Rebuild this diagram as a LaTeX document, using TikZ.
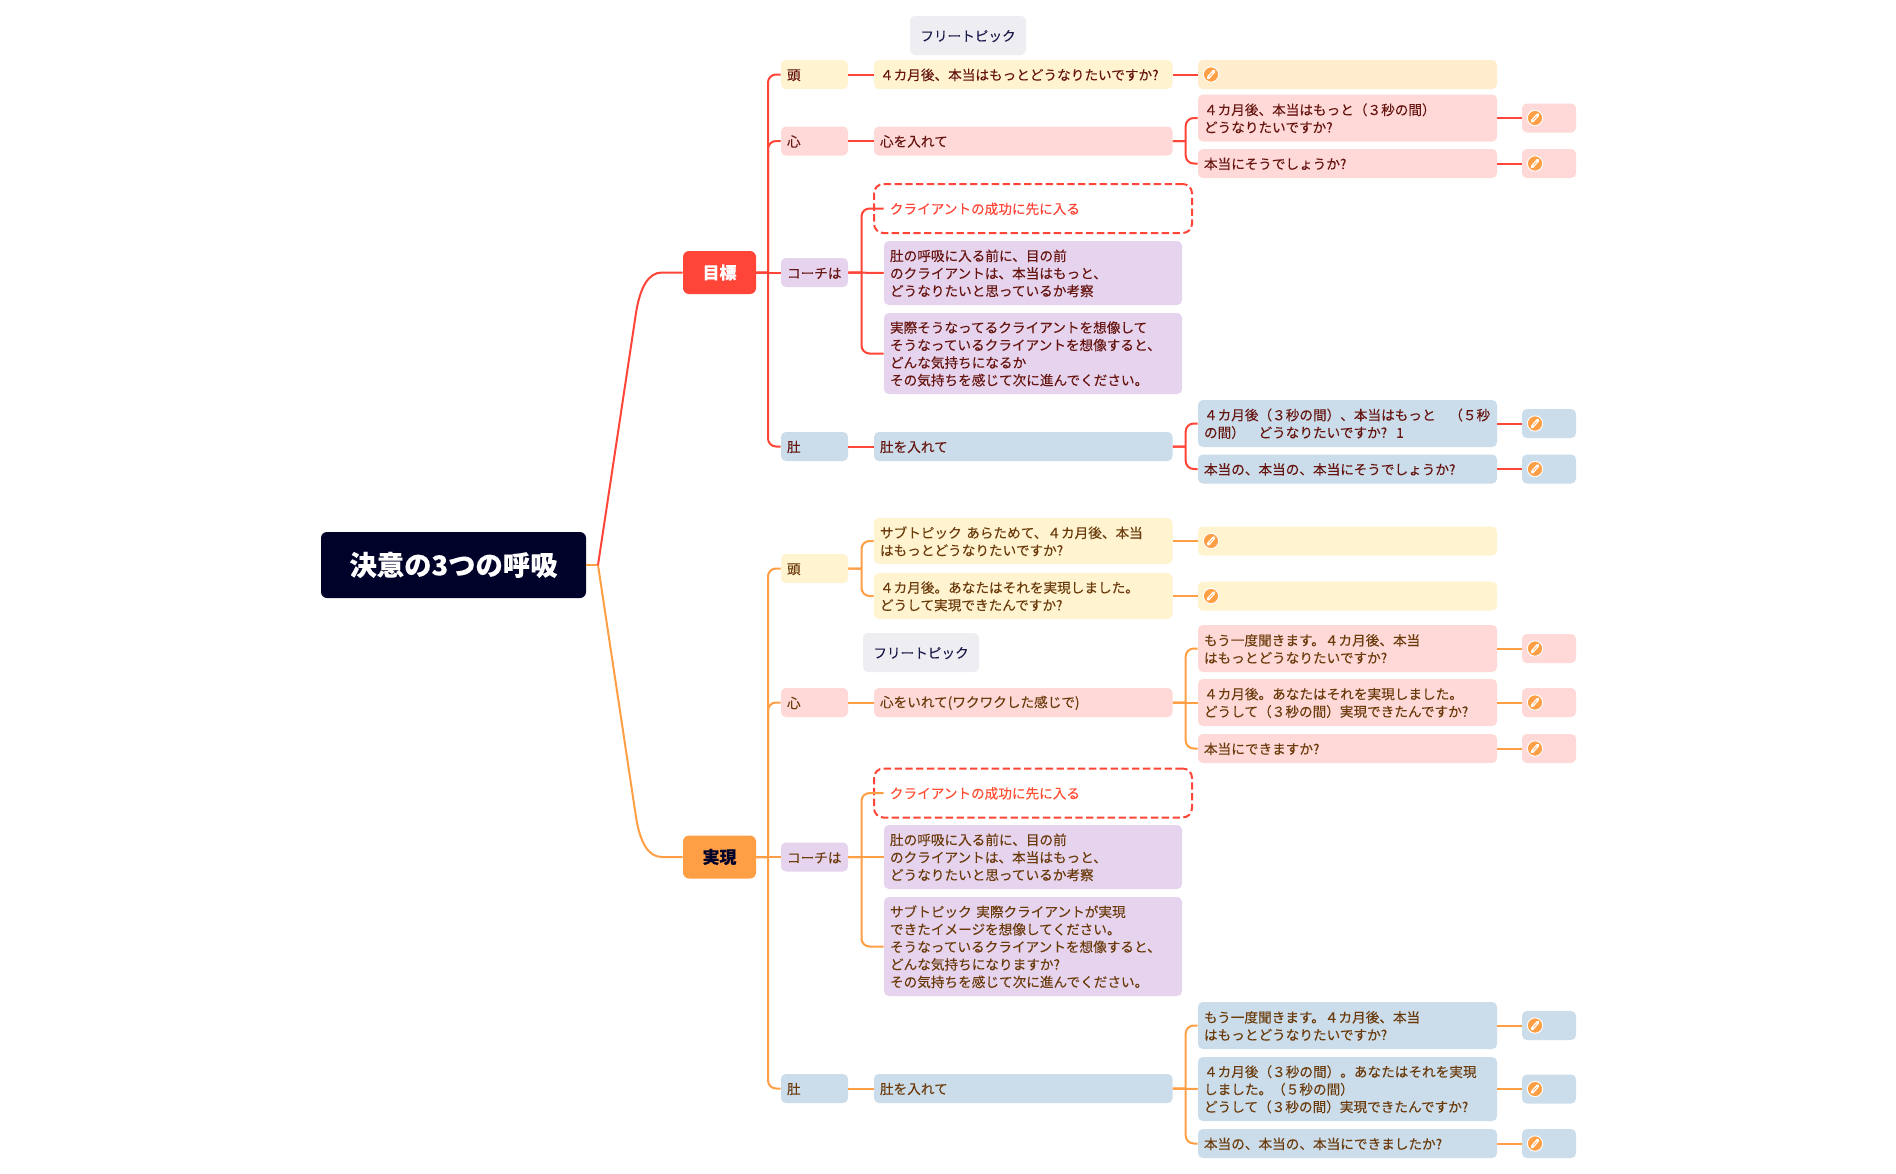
\documentclass[tikz,border=0pt]{standalone}
\usepackage{fontspec}
\setmainfont{Noto Sans CJK JP}[FakeBold=0.03]
\usetikzlibrary{calc}
\definecolor{cRed}{HTML}{FF4438}
\definecolor{cOrg}{HTML}{FF9F45}
\definecolor{cRoot}{HTML}{000229}
\definecolor{cYel}{HTML}{FFF3D0}
\definecolor{cYelB}{HTML}{FFEDCE}
\definecolor{cPink}{HTML}{FFD9D8}
\definecolor{cPur}{HTML}{E6D4EE}
\definecolor{cBlu}{HTML}{CBDDEA}
\definecolor{cFree}{HTML}{EEEDF1}
\definecolor{tRed}{HTML}{66140F}
\definecolor{tOrg}{HTML}{6B3A0B}
\definecolor{tFree}{HTML}{1A1A4A}
\newcommand{\tp}{\rule{0pt}{9.2pt}}
\newcommand{\bx}[7]{% name, fill, left, right, cy, height, text
  \pgfmathsetmacro{\cxv}{(#3+#4)/2}\pgfmathsetmacro{\wv}{(#4-#3)*0.75}\pgfmathsetmacro{\tv}{(#4-#3-12)*0.75}
  \node[tbox,fill=#2,minimum width=\wv pt,text width=\tv pt,minimum height=#6*0.75pt] (#1) at (\cxv,#5) {\tp #7};}
\newcommand{\penicon}[2]{% name, position
  \node[penc] (#1) at #2 {};
  \draw[white,line width=2.4pt,line cap=round] ($(#1)+(-2.8,3.2)$) -- ($(#1)+(2.8,-3.2)$);
  \draw[cOrg,line width=.4pt] ($(#1)+(-1.6,1.8)$) -- ($(#1)+(1.6,-1.8)$);}
\newcommand{\plain}[3]{\draw[#1] (#2.east) -- (#3.west);}
\newcommand{\brk}[4]{\draw[#1] (#3.east) -- (#2 |- #3.east) (#2 |- #3.east) -- (#2 |- #4.west) -- (#4.west);}
\tikzset{
  x=0.75pt,y=-0.75pt,
  tbox/.style={rounded corners=3.6pt,inner xsep=4.5pt,inner ysep=0pt,align=left,
     font=\fontsize{10.22}{13.15}\selectfont,anchor=center},
  redb/.style={text=tRed},
  orgb/.style={text=tOrg},
  rl/.style={draw=cRed,line width=1.5pt,rounded corners=6pt},
  ol/.style={draw=cOrg,line width=1.5pt,rounded corners=6pt},
  penc/.style={circle,fill=cOrg,draw=white,line width=.7pt,minimum size=11.5pt,inner sep=0pt},
  dashbox/.style={draw=cRed,line width=1.5pt,dash pattern=on 5.5pt off 2.6pt,rounded corners=7pt,inner sep=0pt,fill=white},
  main/.style={rounded corners=4.5pt,text=white,inner sep=0pt,align=center},
}
\begin{document}
\begin{tikzpicture}
\useasboundingbox (0,0) rectangle (1896,1174);
\fill[white] (0,0) rectangle (1896,1174);
% spines
\coordinate (sA) at (768,0);
\coordinate (sB) at (861.5,0);
\coordinate (sC) at (1185.7,0);
\coordinate (jn) at (598,565);
\coordinate (upA) at (636,313);
\coordinate (upB) at (662,272.5);
\coordinate (loA) at (636,817);
\coordinate (loB) at (662,857);

% main nodes
\node[main,fill=cRoot,minimum width=198.75pt,minimum height=49.5pt,font=\fontsize{20.5}{24}\selectfont\bfseries] (root) at (453.5,565) {決意の3つの呼吸};
\node[main,fill=cRed,minimum width=54.75pt,minimum height=32.25pt,font=\fontsize{12.7}{15}\selectfont\bfseries] (goal) at (719.5,272.5) {\raisebox{-.6pt}{目標}};
\node[main,fill=cOrg,text=cRoot,minimum width=54.75pt,minimum height=32.25pt,font=\fontsize{12.7}{15}\selectfont\bfseries] (real) at (719.5,857) {実現};

\begin{scope}[every node/.append style={redb}]
\node[tbox,fill=cFree,text=tFree,align=center,minimum width=87pt,minimum height=29.25pt,text width=72pt] (freeA) at (968,35.5) {\tp フリートピック};
\bx{a1}{cYel}{781}{848}{74.5}{29}{頭}
\bx{a2}{cPink}{781}{848}{141}{29}{心}
\bx{a3}{cPur}{781}{848}{272.5}{29}{コーチは}
\bx{a4}{cBlu}{781}{848}{446.5}{29}{肚}
\bx{a1b}{cYel}{874}{1172.5}{74.5}{29}{４カ月後、本当はもっとどうなりたいですか?}
\bx{a1c}{cYelB}{1198}{1497}{74.5}{29}{}
\bx{a2b}{cPink}{874}{1172.5}{141}{29}{心を入れて}
\bx{a2c}{cPink}{1198}{1497}{118}{47}{４カ月後、本当はもっと（３秒の間）\\どうなりたいですか?}
\bx{a2d}{cPink}{1198}{1497}{163.5}{29}{本当にそうでしょうか?}
\bx{a2e}{cPink}{1522}{1576}{118}{29}{}
\bx{a2f}{cPink}{1522}{1576}{163.5}{29}{}
\node[dashbox,minimum width=238.5pt,minimum height=36.75pt] (a3box) at (1033,208.5) {};
\node[tbox,text=cRed,text width=220pt,minimum width=229pt,minimum height=22pt] (a3t) at (1036.5,208.5) {\tp クライアントの成功に先に入る};
\bx{a3p}{cPur}{884}{1182}{273}{64}{肚の呼吸に入る前に、目の前\\のクライアントは、本当はもっと、\\どうなりたいと思っているか考察}
\bx{a3q}{cPur}{884}{1182}{353.5}{81}{実際そうなってるクライアントを想像して\\そうなっているクライアントを想像すると、\\どんな気持ちになるか\\その気持ちを感じて次に進んでください。}
\bx{a4b}{cBlu}{874}{1172.5}{446.5}{29}{肚を入れて}
\bx{a4c}{cBlu}{1198}{1497}{423.5}{47}{４カ月後（３秒の間）、本当はもっと　（５秒\\の間）　どうなりたいですか?\ \ 1}
\bx{a4d}{cBlu}{1198}{1497}{469}{29}{本当の、本当の、本当にそうでしょうか?}
\bx{a4e}{cBlu}{1522}{1576}{423.5}{29}{}
\bx{a4f}{cBlu}{1522}{1576}{469}{29}{}
\end{scope}

\begin{scope}[every node/.append style={orgb}]
\bx{b1}{cYel}{781}{848}{568.5}{29}{頭}
\bx{b2}{cPink}{781}{848}{702.5}{29}{心}
\bx{b3}{cPur}{781}{848}{857}{29}{コーチは}
\bx{b4}{cBlu}{781}{848}{1088.5}{29}{肚}
\bx{b1b}{cYel}{874}{1172.5}{541}{46}{サブトピック あらためて、４カ月後、本当\\はもっとどうなりたいですか?}
\bx{b1c}{cYel}{874}{1172.5}{596}{46}{４カ月後。あなたはそれを実現しました。\\どうして実現できたんですか?}
\bx{b1d}{cYel}{1198}{1497}{541}{29}{}
\bx{b1e}{cYel}{1198}{1497}{596}{29}{}
\node[tbox,fill=cFree,text=tFree,align=center,minimum width=87pt,minimum height=29.25pt,text width=72pt] (freeB) at (921,652.5) {\tp フリートピック};
\bx{b2b}{cPink}{874}{1172.5}{702.5}{29}{心をいれて(ワクワクした感じで)}
\bx{b2c}{cPink}{1198}{1497}{648.5}{47}{もう一度聞きます。４カ月後、本当\\はもっとどうなりたいですか?}
\bx{b2d}{cPink}{1198}{1497}{702.5}{47}{４カ月後。あなたはそれを実現しました。\\どうして（３秒の間）実現できたんですか?}
\bx{b2e}{cPink}{1198}{1497}{748.5}{29}{本当にできますか?}
\bx{b2f}{cPink}{1522}{1576}{648.5}{29}{}
\bx{b2g}{cPink}{1522}{1576}{702.5}{29}{}
\bx{b2h}{cPink}{1522}{1576}{748.5}{29}{}
\node[dashbox,minimum width=238.5pt,minimum height=36.75pt] (b3box) at (1033,793) {};
\node[tbox,text=cRed!85!orange,text width=220pt,minimum width=229pt,minimum height=22pt] (b3t) at (1036.5,793) {\tp クライアントの成功に先に入る};
\bx{b3p}{cPur}{884}{1182}{857}{64}{肚の呼吸に入る前に、目の前\\のクライアントは、本当はもっと、\\どうなりたいと思っているか考察}
\bx{b3q}{cPur}{884}{1182}{946.5}{99}{サブトピック 実際クライアントが実現\\できたイメージを想像してください。\\そうなっているクライアントを想像すると、\\どんな気持ちになりますか?\\その気持ちを感じて次に進んでください。}
\bx{b4b}{cBlu}{874}{1172.5}{1088.5}{29}{肚を入れて}
\bx{b4c}{cBlu}{1198}{1497}{1025.5}{47}{もう一度聞きます。４カ月後、本当\\はもっとどうなりたいですか?}
\bx{b4d}{cBlu}{1198}{1497}{1089}{64}{４カ月後（３秒の間）。あなたはそれを実現\\しました。（５秒の間）\\どうして（３秒の間）実現できたんですか?}
\bx{b4e}{cBlu}{1198}{1497}{1143.5}{29}{本当の、本当の、本当にできましたか?}
\bx{b4f}{cBlu}{1522}{1576}{1025.5}{29}{}
\bx{b4g}{cBlu}{1522}{1576}{1089}{29}{}
\bx{b4h}{cBlu}{1522}{1576}{1143.5}{29}{}
\end{scope}

% connectors
\draw[ol,rounded corners=0pt] (root.east) -- (jn);
\draw[draw=cRed,line width=1.5pt] (jn) -- (upA) .. controls (640,288) and (648,272.5) .. (upB) -- (goal.west);
\draw[draw=cOrg,line width=1.5pt] (jn) -- (loA) .. controls (640,842) and (648,857) .. (loB) -- (real.west);
% red branch
\brk{rl}{sA}{goal}{a1} \brk{rl}{sA}{goal}{a2} \plain{rl}{goal}{a3} \brk{rl}{sA}{goal}{a4}
\plain{rl}{a1}{a1b} \plain{rl}{a1b}{a1c}
\plain{rl}{a2}{a2b} \brk{rl}{sC}{a2b}{a2c} \brk{rl}{sC}{a2b}{a2d} \plain{rl}{a2c}{a2e} \plain{rl}{a2d}{a2f}
\brk{rl}{sB}{a3}{a3t} \plain{rl}{a3}{a3p} \brk{rl}{sB}{a3}{a3q}
\plain{rl}{a4}{a4b} \brk{rl}{sC}{a4b}{a4c} \brk{rl}{sC}{a4b}{a4d} \plain{rl}{a4c}{a4e} \plain{rl}{a4d}{a4f}
% orange branch
\brk{ol}{sA}{real}{b1} \brk{ol}{sA}{real}{b2} \plain{ol}{real}{b3} \brk{ol}{sA}{real}{b4}
\brk{ol}{sB}{b1}{b1b} \brk{ol}{sB}{b1}{b1c} \plain{ol}{b1b}{b1d} \plain{ol}{b1c}{b1e}
\plain{ol}{b2}{b2b} \brk{ol}{sC}{b2b}{b2c} \plain{ol}{b2b}{b2d} \brk{ol}{sC}{b2b}{b2e} \plain{ol}{b2c}{b2f} \plain{ol}{b2d}{b2g} \plain{ol}{b2e}{b2h}
\brk{ol}{sB}{b3}{b3t} \plain{ol}{b3}{b3p} \brk{ol}{sB}{b3}{b3q}
\plain{ol}{b4}{b4b} \brk{ol}{sC}{b4b}{b4c} \plain{ol}{b4b}{b4d} \brk{ol}{sC}{b4b}{b4e} \plain{ol}{b4c}{b4f} \plain{ol}{b4d}{b4g} \plain{ol}{b4e}{b4h}
% icons
\penicon{i1}{(1211,74.5)}
\penicon{i2}{(1535,118)}
\penicon{i3}{(1535,163.5)}
\penicon{i4}{(1535,423.5)}
\penicon{i5}{(1535,469)}
\penicon{i6}{(1211,541)}
\penicon{i7}{(1211,596)}
\penicon{i8}{(1535,648.5)}
\penicon{i9}{(1535,702.5)}
\penicon{i10}{(1535,748.5)}
\penicon{i11}{(1535,1025.5)}
\penicon{i12}{(1535,1089)}
\penicon{i13}{(1535,1143.5)}
\end{tikzpicture}
\end{document}
